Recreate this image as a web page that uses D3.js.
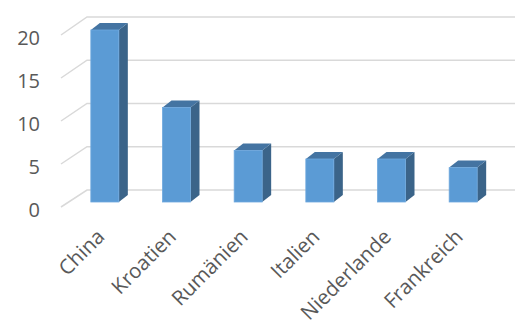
<!DOCTYPE html>
<html>
<head>
<meta charset="utf-8">
<style>
  body { margin: 0; background: #fff; }
  text { font-family: "Open Sans", sans-serif; fill: #595959; }
</style>
</head>
<body>
<svg id="chart" width="523" height="320"></svg>
<script src="https://d3js.org/d3.v7.min.js"></script>
<script>
  var categories = ["China", "Kroatien", "Rumänien", "Italien", "Niederlande", "Frankreich"];
  var values = [20, 11, 6, 5, 5, 4];
  var yTicks = [0, 5, 10, 15, 20];

  var svg = d3.select("#chart");

  // depth offset of the 3d boxes
  var dx = 9, dy = -7;

  var x = d3.scaleBand().domain(categories).range([69, 499]);
  var barW = 28;

  // front of the bars, front edge of floor/side wall, back wall
  var yBar = d3.scaleLinear().domain([0, 20]).range([202, 30]);
  var yFront = d3.scaleLinear().domain([0, 20]).range([207, 35]);
  var yBack = d3.scaleLinear().domain([0, 20]).range([190, 17]);

  var wallX0 = 61, wallX1 = 87, wallRight = 515;

  // gridlines on side wall and back wall
  var grid = svg.append("g")
      .attr("stroke", "#d9d9d9")
      .attr("stroke-width", 1.5)
      .attr("fill", "none");

  grid.selectAll("path")
      .data(yTicks)
    .enter().append("path")
      .attr("d", function(t) {
        return "M" + wallX0 + "," + yFront(t) + "L" + wallX1 + "," + yBack(t) + "L" + wallRight + "," + yBack(t);
      });

  // y labels
  svg.append("g").selectAll("text")
      .data(yTicks)
    .enter().append("text")
      .attr("x", 40)
      .attr("y", function(t) { return yFront(t) + 3; })
      .attr("dy", "0.35em")
      .attr("text-anchor", "end")
      .attr("font-size", 20)
      .text(function(t) { return t; });

  // bars
  var bars = svg.append("g").selectAll("g")
      .data(values)
    .enter().append("g");

  function x0(d, i) { return x(categories[i]) + x.bandwidth() / 2 - barW / 2; }

  bars.append("path")
      .attr("fill", "#3b6489")
      .attr("d", function(d, i) {
        var a = x0(d, i) + barW, t = yBar(d), b = yBar(0);
        return "M" + a + "," + t + "L" + (a + dx) + "," + (t + dy) + "L" + (a + dx) + "," + (b + dy) + "L" + a + "," + b + "Z";
      });

  bars.append("path")
      .attr("fill", "#4474a2")
      .attr("d", function(d, i) {
        var l = x0(d, i), r = l + barW, t = yBar(d);
        return "M" + l + "," + t + "L" + (l + dx) + "," + (t + dy) + "L" + (r + dx) + "," + (t + dy) + "L" + r + "," + t + "Z";
      });

  bars.append("rect")
      .attr("fill", "#5b9bd5")
      .attr("stroke", "#6ea8de")
      .attr("stroke-width", 0.8)
      .attr("x", x0)
      .attr("y", function(d) { return yBar(d); })
      .attr("width", barW)
      .attr("height", function(d) { return yBar(0) - yBar(d); });

  // category labels
  svg.append("g").selectAll("text")
      .data(categories)
    .enter().append("text")
      .attr("transform", function(c) {
        return "translate(" + (x(c) + x.bandwidth() / 2 + 1) + ",238) rotate(-45)";
      })
      .attr("text-anchor", "end")
      .attr("font-size", 20.5)
      .text(function(c) { return c; });
</script>
</body>
</html>
